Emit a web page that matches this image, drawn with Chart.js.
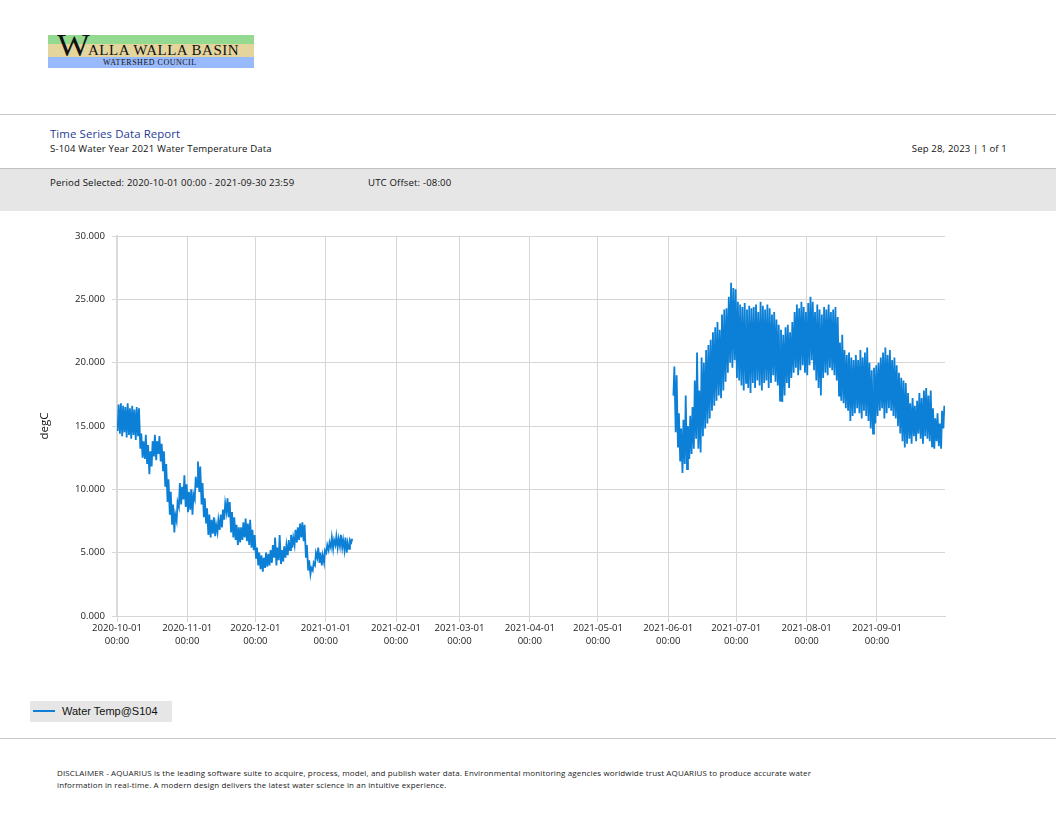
<!DOCTYPE html>
<html><head><meta charset="utf-8">
<script src="https://cdn.jsdelivr.net/npm/chart.js@4.4.0/dist/chart.umd.min.js"></script>
<style>
html,body{margin:0;padding:0;background:#fff;}
body{width:1056px;height:816px;position:relative;overflow:hidden;font-family:"Open Sans",sans-serif;color:#222;}
.abs{position:absolute;white-space:nowrap;}
.hr{position:absolute;left:0;width:1056px;height:1px;background:#c6c6c6;}
.t9{font-size:9.6px;letter-spacing:0.15px;color:#111;}
</style></head><body>

<!-- logo -->
<div class="abs" style="left:48px;top:35px;width:206px;height:9px;background:#93d98f;"></div>
<div class="abs" style="left:48px;top:44px;width:206px;height:13px;background:#e4d59c;"></div>
<div class="abs" style="left:48px;top:57px;width:206px;height:11px;background:#98b9fb;"></div>
<div class="abs" style="left:57px;top:29px;font-family:'Liberation Serif',serif;font-size:31px;line-height:34px;color:#111;transform:scaleX(1.12);transform-origin:left top;">W</div>
<div class="abs" style="left:88px;top:41px;font-family:'Liberation Serif',serif;font-size:15px;line-height:18px;color:#111;letter-spacing:0.5px;">ALLA WALLA BASIN</div>
<div class="abs" style="left:103px;top:58px;font-family:'Liberation Serif',serif;font-size:8px;line-height:10px;color:#111;letter-spacing:0.5px;">WATERSHED COUNCIL</div>

<div class="hr" style="top:114px;"></div>
<div class="abs" style="left:50px;top:126px;font-size:11.4px;letter-spacing:0.1px;color:#1e3d96;">Time Series Data Report</div>
<div class="abs t9" style="left:50px;top:142px;">S-104 Water Year 2021 Water Temperature Data</div>
<div class="abs t9" style="right:49px;top:142px;">Sep 28, 2023 | 1 of 1</div>

<div class="abs" style="left:0;top:168px;width:1056px;height:42px;background:#e6e6e6;border-top:1px solid #c0c0c0;"></div>
<div class="abs t9" style="left:50px;top:176px;">Period Selected: 2020-10-01 00:00 - 2021-09-30 23:59</div>
<div class="abs t9" style="left:368px;top:176px;">UTC Offset: -08:00</div>

<canvas id="c" class="abs" style="left:0;top:220px;"></canvas>

<!-- legend -->
<div class="abs" style="left:30px;top:701px;width:142px;height:21px;background:#e6e6e6;"></div>
<div class="abs" style="left:33px;top:710px;width:22px;height:2px;background:#0c7fd6;"></div>
<div class="abs" style="left:62px;top:703px;font-family:'Liberation Sans',sans-serif;font-size:11px;line-height:16px;color:#111;">Water Temp@S104</div>

<div class="hr" style="top:738px;"></div>
<div class="abs" style="left:57px;top:767px;font-size:8px;letter-spacing:0.14px;line-height:12px;color:#222;">DISCLAIMER - AQUARIUS is the leading software suite to acquire, process, model, and publish water data. Environmental monitoring agencies worldwide trust AQUARIUS to produce accurate water<br>information in real-time. A modern design delivers the latest water science in an intuitive experience.</div>

<script>
// Day offsets are days since 2020-10-01 00:00
const seriesName = "Water Temp@S104";
const seg1StartDay = 0;     // 2020-10-01
const seg2StartDay = 245;   // 2021-06-03
// Daily minimum / maximum water temperature (degC), segment 1: 2020-10-01 .. 2021-01-12
const seg1Min = [14.6,14.4,14.2,14.5,14.1,14.3,14.0,14.3,13.9,14.2,
  13.2,12.5,12.4, 12.0,11.2,11.8, 12.6,12.3,12.8,12.2,11.5,
  10.2,9.0,8.0, 7.2,6.6, 7.5,8.6,8.8,9.2, 8.6,8.2,8.4,8.0,
  9.2,10.2,9.8, 8.8,7.8,7.3, 6.4,6.2,6.5,6.3,6.6,6.8,
  7.0,7.6,8.2, 7.8,6.6,6.2,6.0,5.6,
  5.8,6.0,6.2,5.9,5.6,5.4,5.2, 4.6,4.0,3.7,3.5,3.8,3.9,
  4.0,4.2,4.6,4.0,4.4,4.1,4.3, 4.6,4.8,5.2,5.4,5.6,
  5.8,6.0,6.2,5.9, 4.6,3.6,3.3, 3.6,4.0,4.6,4.2,4.0,4.2,
  5.0,5.2,5.4,5.3,5.6,5.4,5.5, 5.4,5.2,5.0,5.3,5.8];
const seg1Max = [16.7,16.8,16.6,16.5,16.8,16.4,16.6,16.3,16.5,16.4,
  14.4,13.8,14.3, 13.5,13.0,13.8, 14.3,13.8,14.2,13.6,13.0,
  12.0,10.8,9.8, 8.8,8.0, 9.0,10.5,10.2,11.1, 10.4,9.8,10.0,9.6,
  11.0,12.2,11.8, 10.5,9.3,8.5, 8.0,7.6,7.8,7.2,7.6,8.0,
  8.4,8.9,9.3, 9.0,8.2,7.8,7.2,7.0,
  7.0,7.4,7.7,7.3,7.6,6.8,6.4, 5.4,5.0,4.8,4.6,5.0,4.9,
  5.2,5.6,6.2,5.4,6.4,5.2,5.5, 5.6,6.0,6.4,6.2,6.8,
  7.0,7.3,7.4,7.2, 5.6,4.4,3.8, 4.2,5.0,5.4,5.0,4.8,5.2,
  5.6,5.8,6.2,6.0,6.3,6.1,6.4, 6.0,6.2,5.8,6.0,6.1];
// segment 2: 2021-06-03 .. 2021-09-30
const seg2Min = [17.4,14.5,13.3, 12.2,11.3,12.0,11.6,12.4, 12.8,13.2,14.0,
  13.2,12.9,14.2,14.8,15.2,15.6, 16.2,16.6,17.0,17.4,17.2,17.8,
  18.5,19.2,20.0,19.6, 20.2,18.8, 18.6,18.2,17.8,18.4,18.0,17.6,
  18.4,18.0,18.6,18.2,17.8,18.4,18.6,18.0,18.4,19.0,18.5,18.2,
  17.0,16.9,17.4,18.4,18.0,18.8, 19.2,19.6,19.0,19.4,19.8,19.2,19.0,
  19.8,20.2,19.4,18.6,18.0,17.4, 18.8,19.2,19.0,19.6, 19.4,19.0,18.6,
  17.4,17.0,16.8,16.4, 16.2,15.4,15.8,16.0, 16.4,16.0,15.6,16.2,15.8,
  15.4,14.8,14.4,15.2, 15.8,16.2,16.4,15.6,16.0,16.4,16.2,15.8,
  15.6,15.0,14.4,13.8,13.3,13.6, 14.0,13.6,14.2,13.8,14.4,14.0,13.6,14.2,14.0,13.8,
  13.4,13.2,13.8,13.4,13.2,14.8];
const seg2Max = [19.7,19.0,16.0, 14.8,15.5,17.4,15.0,15.8, 16.5,18.6,20.8,
  17.8,20.4,20.0,21.0,21.4,21.8, 22.4,22.8,23.2,22.6,23.8,24.2,
  24.3,25.2,26.3,25.9, 25.8,24.8, 24.6,24.4,24.7,24.2,24.5,24.3,
  24.4,24.6,24.0,24.8,24.5,24.2,24.6,24.3,23.8,24.0,23.4,23.0,
  22.6,22.2,22.8,23.0,22.4,23.2, 24.0,24.6,24.3,24.8,24.4,24.0,24.7,
  25.2,24.8,24.0,24.6,24.2,23.8, 24.4,24.2,24.6,24.0, 24.2,24.4,23.6,
  21.6,22.2,21.0,20.6, 20.8,20.4,20.2,20.6, 20.2,21.0,20.4,20.8,21.2,
  20.0,19.4,19.6,19.8, 20.0,20.4,20.8,21.2,20.6,21.0,20.2,20.4,
  19.8,19.2,18.8,18.6,18.4,17.6, 16.8,17.2,16.6,17.0,17.6,17.2,17.8,18.0,17.4,17.8,
  16.4,15.6,16.0,15.2,16.2,16.6];

const tickDays = [0,31,61,92,123,151,182,212,243,273,304,335];
const tickLabels = ["2020-10-01","2020-11-01","2020-12-01","2021-01-01","2021-02-01","2021-03-01",
  "2021-04-01","2021-05-01","2021-06-01","2021-07-01","2021-08-01","2021-09-01"];
const yTicks = [0,5,10,15,20,25,30];

function buildPoints(start, mins, maxs){
  const pts = [];
  for (let i=0;i<mins.length;i++){
    pts.push({x:start+i+0.28, y:mins[i]});
    pts.push({x:start+i+0.70, y:maxs[i]});
  }
  return pts;
}
const points = buildPoints(seg1StartDay, seg1Min, seg1Max)
  .concat([{x:(seg1StartDay+seg1Min.length+seg2StartDay)/2, y:null}])
  .concat(buildPoints(seg2StartDay, seg2Min, seg2Max));

const cv = document.getElementById('c');
cv.width = 1056; cv.height = 440;
cv.style.width='1056px'; cv.style.height='440px';

const tickFont = {family:"'Open Sans', sans-serif", size:9.6, lineHeight:1.36};
new Chart(cv, {
  type:'line',
  data:{datasets:[{label:seriesName, data:points, borderColor:'#0c7fd6', borderWidth:1.8,
    pointRadius:0, tension:0, spanGaps:false, fill:false}]},
  options:{
    responsive:false, animation:false, devicePixelRatio:1,
    layout:{padding:{left:0,right:111,top:16,bottom:0}},
    plugins:{legend:{display:false}, tooltip:{enabled:false}},
    scales:{
      x:{type:'linear', min:0, max:365,
        afterFit:s=>{s.height=44;},
        afterBuildTicks:s=>{s.ticks = tickDays.map(v=>({value:v}));},
        grid:{color:'#d6d6d6', tickLength:6, drawTicks:true},
        border:{color:'#d6d6d6'},
        ticks:{autoSkip:false, maxRotation:0, minRotation:0, padding:0, color:'#222', font:tickFont,
          callback:(v,i)=>[tickLabels[i], '00:00']}
      },
      y:{type:'linear', min:0, max:30,
        afterFit:s=>{s.width=117;},
        afterBuildTicks:s=>{s.ticks = yTicks.map(v=>({value:v}));},
        grid:{color:'#d6d6d6', tickLength:5},
        border:{color:'#dadada', width:2},
        ticks:{padding:7, color:'#222', font:{family:"'Open Sans', sans-serif", size:9.6}, callback:v=>Number(v).toFixed(3)},
        title:{display:true, text:'degC', color:'#111', font:{family:"'Open Sans', sans-serif", size:11.5},
          padding:{top:38,bottom:0}}
      }
    }
  }
});
</script>
</body></html>
